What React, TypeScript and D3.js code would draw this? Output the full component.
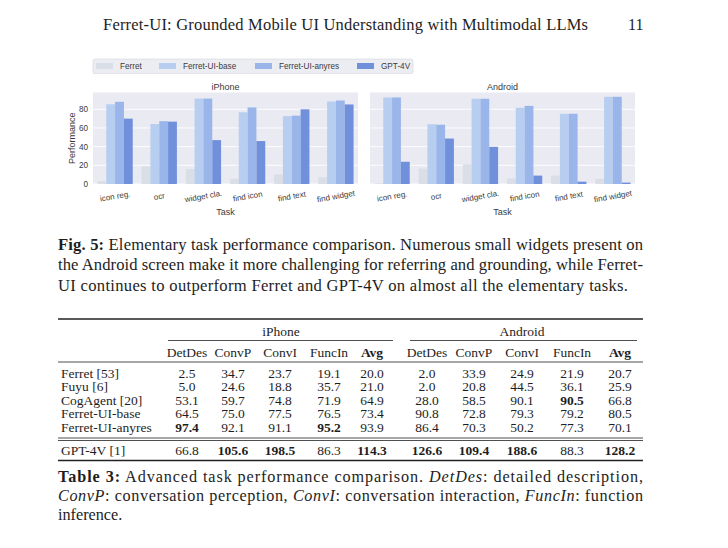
import React from 'react';
import * as d3 from 'd3';

const categories = ["icon reg.", "ocr", "widget cla.", "find icon", "find text", "find widget"];
const seriesNames = ["Ferret", "Ferret-UI-base", "Ferret-UI-anyres", "GPT-4V"];

const iphoneFerret = [3.0, 19.0, 16.0, 5.7, 10.2, 7.3];
const iphoneBase = [85.4, 64.3, 91.5, 76.8, 72.7, 88.4];
const iphoneAnyres = [88.0, 67.3, 91.5, 82.0, 73.2, 89.4];
const iphoneGpt = [70.0, 66.8, 47.0, 46.0, 80.0, 85.2];

const androidFerret = [0.8, 16.5, 21.0, 6.0, 9.0, 5.5];
const androidBase = [92.7, 64.0, 91.3, 81.6, 75.2, 93.4];
const androidAnyres = [92.7, 63.5, 91.3, 83.7, 75.2, 93.4];
const androidGpt = [23.8, 48.7, 39.8, 9.0, 2.5, 1.5];

const yTicks = [0, 20, 40, 60, 80];

const tableColumns = ["DetDes", "ConvP", "ConvI", "FuncIn", "Avg"];
const tableModels = ["Ferret [53]", "Fuyu [6]", "CogAgent [20]", "Ferret-UI-base", "Ferret-UI-anyres", "GPT-4V [1]"];
const iphoneTable = [
  [2.5, 34.7, 23.7, 19.1, 20.0],
  [5.0, 24.6, 18.8, 35.7, 21.0],
  [53.1, 59.7, 74.8, 71.9, 64.9],
  [64.5, 75.0, 77.5, 76.5, 73.4],
  [97.4, 92.1, 91.1, 95.2, 93.9],
  [66.8, 105.6, 198.5, 86.3, 114.3],
];
const androidTable = [
  [2.0, 33.9, 24.9, 21.9, 20.7],
  [2.0, 20.8, 44.5, 36.1, 25.9],
  [28.0, 58.5, 90.1, 90.5, 66.8],
  [90.8, 72.8, 79.3, 79.2, 80.5],
  [86.4, 70.3, 50.2, 77.3, 70.1],
  [126.6, 109.4, 188.6, 88.3, 128.2],
];
const iphoneBold = [[], [], [], [], [0, 3], [1, 2, 4]];
const androidBold = [[], [], [3], [], [], [0, 1, 2, 4]];

const colors = ["#d9dee7", "#b8cef0", "#99b5ea", "#7190dc"];
const SANS = "'Liberation Sans', Arial, sans-serif";
const SERIF = "'Liberation Serif', 'Times New Roman', serif";
const TXT = "#1e1e1e";
const AX = "#3a3a3a";

const yScale = d3.scaleLinear().domain([0, 98]).range([184, 92.5]);

function Panel({ x0, width, title, series, showY }: any) {
  const x = d3.scaleBand().domain(categories).range([x0, x0 + width]).paddingInner(0.2).paddingOuter(0.1);
  const xs = d3.scaleBand().domain(seriesNames).range([0, x.bandwidth()]);
  const [y0, y1] = yScale.range();
  return (
    <g>
      <rect x={x0} y={y1} width={width} height={y0 - y1} fill="#eaeaf2" />
      {yTicks.map((t) => (
        <line key={t} x1={x0} x2={x0 + width} y1={yScale(t)} y2={yScale(t)} stroke="#fff" strokeWidth={0.9} />
      ))}
      {series.map((vals: number[], si: number) =>
        vals.map((v, ci) => (
          <rect
            key={si + '-' + ci}
            x={(x(categories[ci]) as number) + (xs(seriesNames[si]) as number)}
            y={yScale(v)}
            width={xs.bandwidth()}
            height={yScale(0) - yScale(v)}
            fill={colors[si]}
          />
        ))
      )}
      <text x={x0 + width / 2} y={90} textAnchor="middle" fontFamily={SANS} fontSize={9} fill={AX}>{title}</text>
      {categories.map((c) => {
        const cx = (x(c) as number) + x.bandwidth() / 2;
        return (
          <text key={c} transform={`translate(${cx},${196}) rotate(-10)`} y={3} textAnchor="middle" fontFamily={SANS} fontSize={8} fill={AX}>{c}</text>
        );
      })}
      <text x={x0 + width / 2} y={215} textAnchor="middle" fontFamily={SANS} fontSize={9} fill={AX}>Task</text>
      {showY && yTicks.map((t) => (
        <text key={'yt' + t} x={x0 - 5} y={yScale(t) + 3} textAnchor="end" fontFamily={SANS} fontSize={8.2} fill={AX}>{t}</text>
      ))}
      {showY && (
        <text transform={`translate(${x0 - 18},${(y0 + y1) / 2}) rotate(-90)`} textAnchor="middle" fontFamily={SANS} fontSize={9} fill={AX}>Performance</text>
      )}
    </g>
  );
}

function Legend() {
  const textX = [120, 183, 279, 381];
  return (
    <g>
      <rect x={93} y={59} width={320} height={14.5} fill="#ecedf2" stroke="#d4d6de" strokeWidth={0.6} rx={1.5} />
      {seriesNames.map((s, i) => (
        <g key={s}>
          <rect x={textX[i] - 24} y={63} width={17} height={6} fill={colors[i]} />
          <text x={textX[i]} y={69} fontFamily={SANS} fontSize={8.2} fill={AX}>{s}</text>
        </g>
      ))}
    </g>
  );
}

function Table() {
  const colX = [187, 233, 280, 329, 372, 427, 474, 522, 572, 620];
  const rowY = [377.5, 391, 404.5, 418, 431.5, 454.5];
  const fs = 13.5;
  const cell = (v: number, cx: number, y: number, bold: boolean, key: string) => (
    <text key={key} x={cx} y={y} textAnchor="middle" fontFamily={SERIF} fontSize={fs} fontWeight={bold ? 'bold' : 'normal'} fill={TXT}>{v.toFixed(1)}</text>
  );
  return (
    <g>
      <line x1={58} x2={643} y1={319} y2={319} stroke="#222" strokeWidth={1.5} />
      <text x={281} y={335.5} textAnchor="middle" fontFamily={SERIF} fontSize={fs} fill={TXT}>iPhone</text>
      <text x={522} y={335.5} textAnchor="middle" fontFamily={SERIF} fontSize={fs} fill={TXT}>Android</text>
      <line x1={168} x2={393} y1={340.5} y2={340.5} stroke="#222" strokeWidth={0.8} />
      <line x1={410} x2={637} y1={340.5} y2={340.5} stroke="#222" strokeWidth={0.8} />
      {[...tableColumns, ...tableColumns].map((c, i) => (
        <text key={'h' + i} x={colX[i]} y={356.5} textAnchor="middle" fontFamily={SERIF} fontSize={fs} fontWeight={c === 'Avg' ? 'bold' : 'normal'} fill={TXT}>{c}</text>
      ))}
      <line x1={58} x2={643} y1={362} y2={362} stroke="#222" strokeWidth={0.8} />
      {tableModels.map((m, r) => (
        <g key={m}>
          <text x={61} y={rowY[r]} fontFamily={SERIF} fontSize={fs} fill={TXT}>{m}</text>
          {iphoneTable[r].map((v, c) => cell(v, colX[c], rowY[r], iphoneBold[r].includes(c), 'i' + r + c))}
          {androidTable[r].map((v, c) => cell(v, colX[c + 5], rowY[r], androidBold[r].includes(c), 'a' + r + c))}
        </g>
      ))}
      <line x1={58} x2={643} y1={438} y2={438} stroke="#222" strokeWidth={0.8} />
      <line x1={58} x2={643} y1={440.5} y2={440.5} stroke="#222" strokeWidth={0.8} />
      <line x1={58} x2={643} y1={460.5} y2={460.5} stroke="#222" strokeWidth={1.5} />
    </g>
  );
}

export default function App() {
  return (
    <svg width={728} height={548} style={{ position: 'absolute', left: 0, top: 0 }}>
      <rect x={0} y={0} width={728} height={548} fill="#fff" />
      <text x={103} y={30} fontFamily={SERIF} fontSize={16.5} fill={TXT} textLength={485} lengthAdjust="spacing">Ferret-UI: Grounded Mobile UI Understanding with Multimodal LLMs</text>
      <text x={628} y={30} fontFamily={SERIF} fontSize={16} fill={TXT}>11</text>

      <Legend />
      <Panel x0={93} width={265} title="iPhone" series={[iphoneFerret, iphoneBase, iphoneAnyres, iphoneGpt]} showY={true} />
      <Panel x0={370} width={265} title="Android" series={[androidFerret, androidBase, androidAnyres, androidGpt]} showY={false} />

      <g fontFamily={SERIF} fontSize={16.6} fill={TXT}>
        <text x={58} y={249.5} textLength={585} lengthAdjust="spacing"><tspan fontWeight="bold">Fig. 5:</tspan> Elementary task performance comparison. Numerous small widgets present on</text>
        <text x={58} y={270} textLength={585} lengthAdjust="spacing">the Android screen make it more challenging for referring and grounding, while Ferret-</text>
        <text x={58} y={290.5} textLength={570} lengthAdjust="spacing">UI continues to outperform Ferret and GPT-4V on almost all the elementary tasks.</text>
      </g>

      <Table />

      <g fontFamily={SERIF} fontSize={16.2} fill={TXT}>
        <text x={58} y={482} textLength={585} lengthAdjust="spacing"><tspan fontWeight="bold">Table 3:</tspan> Advanced task performance comparison. <tspan fontStyle="italic">DetDes</tspan>: detailed description,</text>
        <text x={58} y={501} textLength={585} lengthAdjust="spacing"><tspan fontStyle="italic">ConvP</tspan>: conversation perception, <tspan fontStyle="italic">ConvI</tspan>: conversation interaction, <tspan fontStyle="italic">FuncIn</tspan>: function</text>
        <text x={58} y={520}>inference.</text>
      </g>
    </svg>
  );
}
